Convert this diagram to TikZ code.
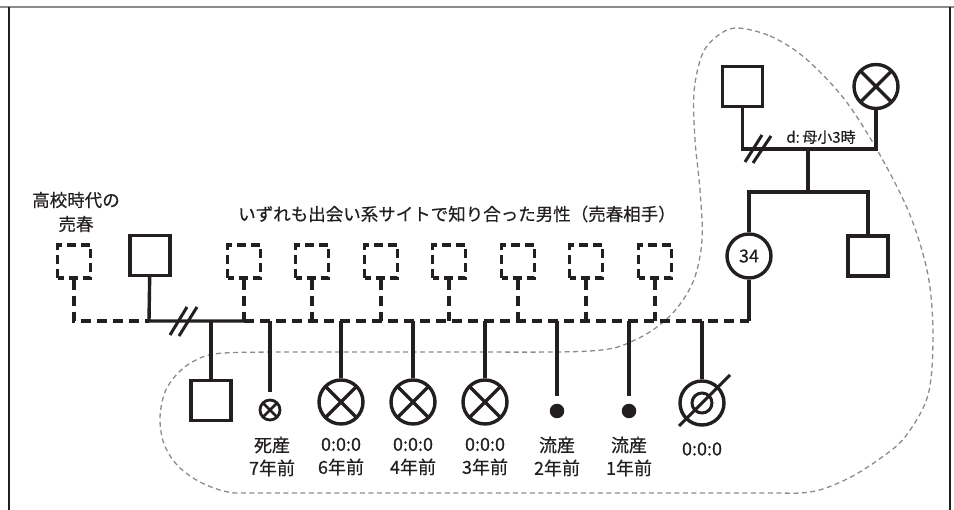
\documentclass[tikz,border=0pt]{standalone}
\usepackage{fontspec}
\setmainfont{Noto Sans CJK JP}[FakeBold=0.5]
\definecolor{ink}{HTML}{231F20}
\definecolor{halo}{HTML}{8C8C8C}
\begin{document}
\begin{tikzpicture}[x=1pt,y=-1pt,line width=3.4pt,draw=ink]
	\def \toprow{86.5}
	\def \boxrow{261.5}
	\def \sibrow{256}
	\def \linerow{321}
	\def \kidrow{402}
	\tikzstyle{sq-node}=[rectangle,draw=ink,line width=3.4pt,minimum size=40pt,inner sep=0pt]
	\tikzstyle{u-node}=[rectangle,draw=ink,line width=3.2pt,minimum size=33pt,inner sep=0pt,dash pattern=on 9pt off 5pt,dash phase=3pt]
	\tikzstyle{o-node}=[circle,draw=ink,line width=3.4pt,minimum size=44pt,inner sep=0pt,font=\fontsize{18}{20}\selectfont,text=ink]
	\tikzstyle{x-node}=[o-node,path picture={\draw[line width=3.2pt] (path picture bounding box.north west) -- (path picture bounding box.south east) (path picture bounding box.south west) -- (path picture bounding box.north east);}]
	\tikzstyle{sx-node}=[circle,draw=ink,line width=2.8pt,minimum size=20pt,inner sep=0pt,path picture={\draw[line width=2.6pt] (path picture bounding box.north west) -- (path picture bounding box.south east) (path picture bounding box.south west) -- (path picture bounding box.north east);}]
	\tikzstyle{mc-node}=[circle,fill=ink,minimum size=14.5pt,inner sep=0pt]
	\tikzstyle{lbl}=[text=ink,align=center,font=\fontsize{18}{23}\selectfont]
	\tikzstyle{sline}=[draw=ink,line width=3.4pt]
	\tikzstyle{dline}=[sline,dash pattern=on 10pt off 6pt]
	\tikzstyle{halo-line}=[draw=halo,line width=1.3pt,dash pattern=on 5pt off 3.5pt]

	\useasboundingbox (0,0) rectangle (954,510);
	% frame
	\draw[draw=halo,line width=2.2pt] (0,7) -- (954,7);
	\draw[line width=1.6pt] (9,7) -- (9,510);
	\draw[line width=1.6pt] (950,7) -- (950,510);

	% outline round the family
	\draw[halo-line] plot[smooth cycle,tension=0.55] coordinates {
		(736,28) (770,36) (805,58) (845,100) (880,155) (910,215) (928,275) (933,335)
		(928,395) (905,437) (878,460) (845,480) (810,492) (760,493) (600,493) (420,493)
		(260,493) (228,492) (200,482) (178,466) (164,444) (160,418) (165,392) (178,373)
		(196,360) (224,353) (320,352) (450,352) (590,351) (635,340) (670,316) (693,282)
		(702,240) (700,190) (695,140) (694,92) (702,55) (716,37)};

	% labels
	\node[lbl,font=\fontsize{17.5}{24}\selectfont] (t0) at (76,212) {高校時代の\\売春};
	\node[lbl,font=\fontsize{17.5}{24}\selectfont] (t1) at (457,214) {いずれも出会い系サイトで知り合った男性（売春相手）};

	% grandparents
	\node[sq-node] (gf) at (742.5,\toprow) {};
	\node[x-node] (gm) at (876,\toprow) {};
	\node[lbl,font=\fontsize{15}{18}\selectfont] (td) at (821,137) {d:\,母小3時};

	% parents row
	\node[sq-node] (hu) at (150,255.5) {};
	\node[o-node] (ip) at (749,\sibrow) {34};
	\node[sq-node] (br) at (868,\sibrow) {};

	% partners
	\node[u-node] (p0) at (74,\boxrow) {};
	\node[u-node] (p1) at (244,\boxrow) {};
	\node[u-node] (p2) at (312,\boxrow) {};
	\node[u-node] (p3) at (381,\boxrow) {};
	\node[u-node] (p4) at (449,\boxrow) {};
	\node[u-node] (p5) at (518,\boxrow) {};
	\node[u-node] (p6) at (586,\boxrow) {};
	\node[u-node] (p7) at (655,\boxrow) {};

	% children
	\node[sq-node] (c0) at (211,400.5) {};
	\node[sx-node] (c1) at (270,410) {};
	\node[x-node] (c2) at (341,\kidrow) {};
	\node[x-node] (c3) at (413,\kidrow) {};
	\node[x-node] (c4) at (485,\kidrow) {};
	\node[mc-node] (c5) at (557,411) {};
	\node[mc-node] (c6) at (629,411) {};
	\node[o-node] (c7) at (702,403) {};
	\node[circle,draw=ink,line width=3pt,minimum size=20pt,inner sep=0pt] (c7i) at (702,403) {};
	\draw[sline,line width=3pt] ([shift={(-23,23)}]c7.center) -- ([shift={(28,-28)}]c7.center);

	\node[lbl] (n1) at (272,456.5) {死産\\7年前};
	\node[lbl] (n2) at (341,456.5) {0:0:0\\6年前};
	\node[lbl] (n3) at (413,456.5) {0:0:0\\4年前};
	\node[lbl] (n4) at (485,456.5) {0:0:0\\3年前};
	\node[lbl] (n5) at (557,456.5) {流産\\2年前};
	\node[lbl] (n6) at (629,456.5) {流産\\1年前};
	\node[lbl] (n7) at (702,449) {0:0:0};

	% grandparents lines
	\coordinate (gj) at (808,149);
	\coordinate (sj) at (808,192);
	\draw[sline] (gf) |- (gj) -| (gm);
	\draw[sline] (gj) -- (sj);
	\draw[sline] (ip) |- (sj) -| (br);
	\coordinate (gd) at (758,149);
	\draw[sline,line width=3pt] ([shift={(-13,13)}]gd) -- ([shift={(4,-14)}]gd);
	\draw[sline,line width=3pt] ([shift={(-5,14)}]gd) -- ([shift={(13,-13)}]gd);

	% main line
	\coordinate (l0) at (74,\linerow);
	\coordinate (l1) at (149,\linerow);
	\coordinate (l2) at (244,\linerow);
	\coordinate (l9) at (749,\linerow);
	\draw[dline] (p0) -- (l0) -- (l1);
	\draw[sline] (hu) -- (l1) -- (l2);
	\draw[dline] (l2) -- (l9);
	\draw[sline] (l9) -- (ip);
	\coordinate (md) at (183,\linerow);
	\draw[sline,line width=3pt] ([shift={(-13,14)}]md) -- ([shift={(4,-14)}]md);
	\draw[sline,line width=3pt] ([shift={(-4,15)}]md) -- ([shift={(14,-14)}]md);

	\foreach \i in {1,...,7}
		\draw[dline] (p\i) -- (p\i |- l2);

	\draw[sline] (c0 |- l2) -- (c0);
	\draw[sline,shorten >=7pt] (c1 |- l2) -- (c1);
	\foreach \i in {2,3,4,7}
		\draw[sline] (c\i |- l2) -- (c\i);
	\foreach \i in {5,6}
		\draw[sline,shorten >=6pt] (c\i |- l2) -- (c\i);
\end{tikzpicture}
\end{document}
